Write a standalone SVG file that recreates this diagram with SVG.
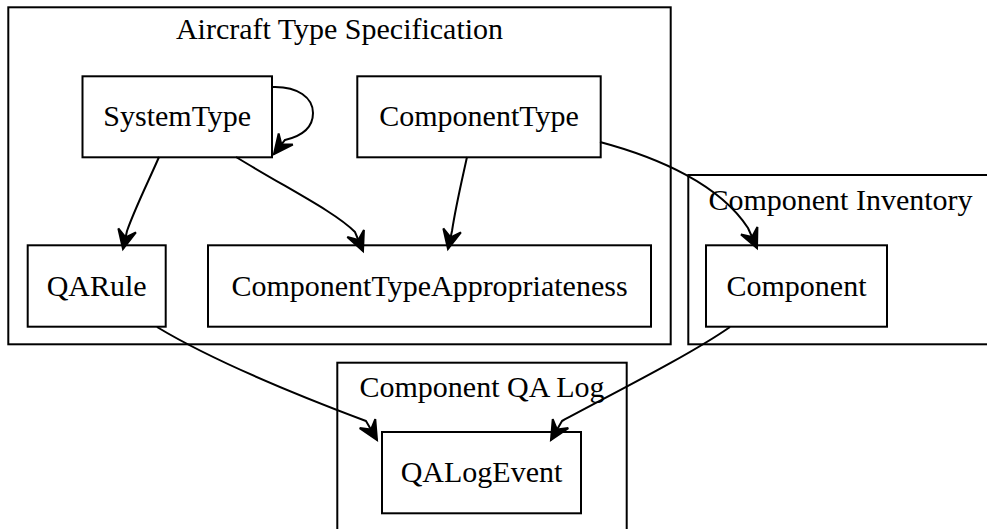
<svg xmlns="http://www.w3.org/2000/svg" width="987" height="529" viewBox="0 0 987 529">
  <style>
    .cluster { fill: none; stroke: #000; stroke-width: 2; }
    .node rect { fill: #fff; stroke: #000; stroke-width: 2; }
    text { font-family: "Liberation Serif", "Times New Roman", serif; font-size: 30px; fill: #000; text-anchor: middle; }
    .edge { fill: none; stroke: #000; stroke-width: 2; marker-end: url(#vee); }
  </style>
  <defs>
    <!-- filled vee arrowhead, tip at the path end -->
    <marker id="vee" markerUnits="userSpaceOnUse" markerWidth="28" markerHeight="26" viewBox="-24 -13 28 26" refX="0" refY="0" orient="auto">
      <path d="M0,0 L-19,-9 L-12,0 L-19,9 Z" fill="#000" stroke="#000" stroke-width="2" stroke-linejoin="miter"/>
    </marker>
  </defs>

  <rect width="987" height="529" fill="#fff"/>

  <!-- clusters -->
  <g id="cluster_aircraft_type_specification">
    <rect class="cluster" x="8.3" y="7.3" width="662.4" height="337"/>
    <text x="339.5" y="39">Aircraft Type Specification</text>
  </g>
  <g id="cluster_component_inventory">
    <rect class="cluster" x="688.3" y="175" width="310" height="169.3"/>
    <text x="840.5" y="210">Component Inventory</text>
  </g>
  <g id="cluster_component_qa_log">
    <rect class="cluster" x="337.3" y="362.7" width="289.4" height="200"/>
    <text x="482" y="397">Component QA Log</text>
  </g>

  <!-- nodes -->
  <g id="SystemType" class="node">
    <rect x="82.5" y="76.3" width="189.5" height="81"/>
    <text x="177.25" y="126.3">SystemType</text>
  </g>
  <g id="ComponentType" class="node">
    <rect x="357.3" y="76.3" width="243.4" height="81"/>
    <text x="479" y="126.3">ComponentType</text>
  </g>
  <g id="QARule" class="node">
    <rect x="27.7" y="245.3" width="138" height="81.4"/>
    <text x="96.7" y="295.5">QARule</text>
  </g>
  <g id="ComponentTypeAppropriateness" class="node">
    <rect x="208" y="245.3" width="443" height="81.4"/>
    <text x="429.5" y="295.5">ComponentTypeAppropriateness</text>
  </g>
  <g id="Component" class="node">
    <rect x="706" y="245.3" width="181" height="81.4"/>
    <text x="796.5" y="295.5">Component</text>
  </g>
  <g id="QALogEvent" class="node">
    <rect x="382" y="432" width="199" height="81.3"/>
    <text x="481.5" y="482.2">QALogEvent</text>
  </g>

  <!-- connectors -->
  <g id="edges">
    <path class="edge" d="M272,87 C298,86 313,98 313,113 C313,128 302,136 285,140 L274,154"/>
    <path class="edge" d="M159,157 C150,178 135,208 127,231 L123,249"/>
    <path class="edge" d="M236,157 C290,190 335,212 355,232 L363,251"/>
    <path class="edge" d="M467,157 C462,180 456,205 452,231 L448,249"/>
    <path class="edge" d="M600,142 C660,158 720,185 748,228 L757,248"/>
    <path class="edge" d="M157,327 C220,365 310,400 366,421 L377,440"/>
    <path class="edge" d="M730,327 C690,355 610,395 562,421 L551,440"/>
  </g>
</svg>
